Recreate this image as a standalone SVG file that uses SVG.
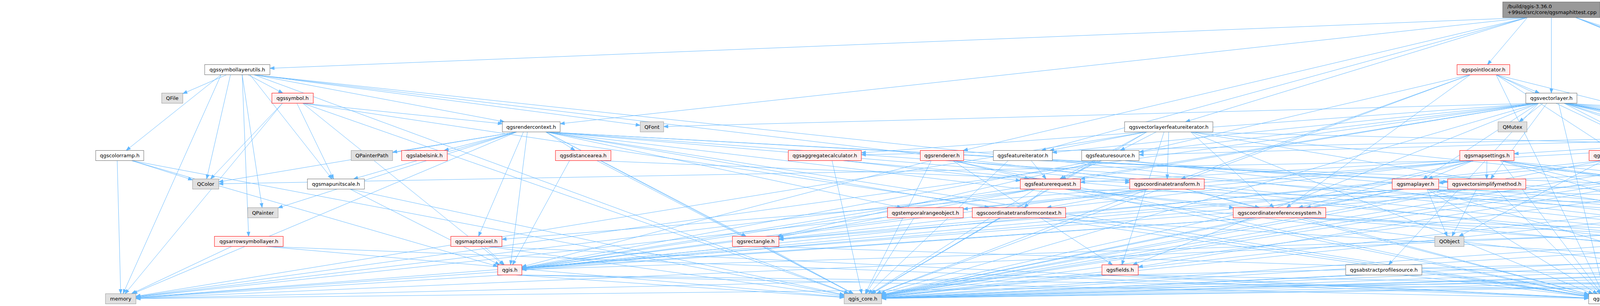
<svg xmlns="http://www.w3.org/2000/svg" width="7326" height="784" viewBox="0 0 7326 784">
<style>
.w rect{fill:#ffffff;stroke:#666666;stroke-width:1}
.g rect{fill:#e0e0e0;stroke:#999999;stroke-width:1}
.r rect{fill:#fff0f0;stroke:#ff0000;stroke-width:1}
.root rect{fill:#999999;stroke:#666666;stroke-width:1}
text{font-family:"DejaVu Sans","Liberation Sans",sans-serif;font-size:13px;fill:#000000;text-anchor:middle}
.root text{text-anchor:start}
</style>
<defs>
<marker id="a" markerUnits="userSpaceOnUse" markerWidth="12" markerHeight="9" refX="11" refY="4" orient="auto" overflow="visible"><path d="M0,0L11,4L0,8z" fill="#63b8ff" stroke="#63b8ff" stroke-width="1"/></marker>
</defs>
<rect x="0" y="0" width="7326" height="784" fill="#ffffff"/>
<g id="edges" fill="none" stroke="#63b8ff" stroke-width="1" marker-end="url(#a)">
<path d="M4034 45L4753 312"/><path d="M3910 45L2666 385.5"/><path d="M3910 45L1434 317"/><path d="M3910 45L2466 385.5"/><path d="M3971.5 45L3971.5 238.5"/><path d="M3910 45L691 175"/><path d="M4034 45L5389 605.5"/><path d="M4096 30L6218 102"/><path d="M4034 45L5538 532"/><path d="M3910 45L3035 312"/><path d="M4034 45L4891 385.5"/><path d="M3910 45L3808 165.5"/>
<path d="M6301 118.5L6246 165.5"/><path d="M6270 118.5L5219.5 532"/><path d="M6270 118.5L5991 605.5"/><path d="M6270 118.5L2257 758"/><path d="M6270 118.5L4154 752.5"/><path d="M6372 118.5L7115 752.5"/>
<path d="M580 191.5L468 240"/><path d="M635 191.5L724 238.5"/><path d="M566 191.5L323 385.5"/><path d="M590 191.5L529 458.5"/><path d="M620 191.5L636.5 605.5"/><path d="M640 191.5L850 458.5"/><path d="M650 191.5L1639 321"/><path d="M566 191.5L315 752.5"/><path d="M650 191.5L2174 752.5"/><path d="M650 191.5L5953 761.7"/><path d="M650 191.5L4811 688"/><path d="M620 191.5L671 532"/><path d="M650 191.5L1291 312"/>
<path d="M3830 191.5L3941 238.5"/><path d="M3830 191.5L4699 605.5"/><path d="M3764 191.5L3023.5 458.5"/><path d="M3764 191.5L3293.5 532"/><path d="M3764 191.5L1990 605.5"/><path d="M3830 191.5L5788 678.5"/><path d="M3764 191.5L2244 752.5"/><path d="M3830 191.5L4104 752.5"/><path d="M3830 191.5L4578.5 678.5"/>
<path d="M775 264.5L1286 317"/><path d="M723 264.5L320 752.5"/><path d="M775 264.5L2172 752.5"/><path d="M775 264.5L1289 678.5"/><path d="M723 264.5L539 458.5"/><path d="M760 264.5L854 458.5"/><path d="M775 264.5L4067 759"/>
<path d="M3939 264.5L3643 458.5"/><path d="M3950 264.5L3889 312"/><path d="M3960 264.5L3816 458.5"/><path d="M3939 264.5L2916 389.5"/><path d="M3939 264.5L2766 458.7"/><path d="M3939 264.5L2900 678.5"/><path d="M4004 264.5L4960 320"/><path d="M4004 264.5L4982 605.5"/><path d="M4004 264.5L6235 678.5"/><path d="M3939 264.5L2205 391.6"/><path d="M4004 264.5L5502 458.5"/><path d="M4004 264.5L5299 385.5"/><path d="M3939 264.5L3554.6 678.5"/><path d="M4004 264.5L5932 609"/><path d="M4004 264.5L5784 678.5"/><path d="M4004 264.5L7104 761.3"/><path d="M4004 264.5L4813 678.5"/><path d="M4004 264.5L6076 685.3"/><path d="M4004 264.5L5123 605.5"/><path d="M3939 264.5L1699 324.2"/><path d="M3939 264.5L2254 752.5"/><path d="M3990 264.5L4107 752.5"/><path d="M3939 264.5L1336 686.5"/><path d="M3939 264.5L348 760"/><path d="M3939 264.5L2694 390.8"/>
<path d="M1323 338L560 466"/><path d="M1323 338L712 532.6"/><path d="M1323 338L1005 390"/><path d="M1323 338L340 752.5"/><path d="M1397 338L2184 752.5"/><path d="M1397 338L4067 758.6"/><path d="M1350 338L1307 678.5"/><path d="M1397 338L2892 463.5"/><path d="M1397 338L5098 540"/><path d="M1340 338L1225 605.5"/><path d="M1323 338L905 458.5"/><path d="M1397 338L1910 605.5"/><path d="M1397 338L3706 466"/><path d="M1397 338L1472 385.5"/><path d="M1323 338L1137 385.5"/><path d="M1397 338L2308 532"/><path d="M1397 338L2532 532"/><path d="M1397 338L4274 683"/><path d="M1397 338L4177 538"/>
<path d="M2936 338L2687 385.5"/><path d="M2936 338L2713 458.5"/><path d="M2960 338L2868 385.5"/><path d="M2980 338L2872 678.5"/><path d="M3048 338L3261 532"/><path d="M2992 338L2988 458.5"/><path d="M3048 338L5299 395"/><path d="M2936 338L2231 752.5"/><path d="M3048 338L4078 752.5"/><path d="M3048 338L7104 762.7"/><path d="M2936 338L348 759"/><path d="M3048 338L4687 612"/>
<path d="M4756 338L3876 394"/><path d="M4756 338L4211 391.5"/><path d="M4820 338L4901 385.5"/><path d="M4820 338L7104 760.6"/><path d="M4820 338L6076 683"/><path d="M4788 338L4729 605.5"/><path d="M4756 338L2257 757.4"/><path d="M4756 338L4130 752.5"/><path d="M4820 338L5149.5 605.5"/>
<path d="M5095 338L5943 605.5"/><path d="M5005 338L2766 467"/><path d="M5005 338L2916 396.5"/><path d="M5005 338L2914 684"/><path d="M5005 338L2205 396.5"/><path d="M5050 338L5020 605.5"/><path d="M5095 338L5181 532"/><path d="M5005 338L2257 758"/><path d="M5005 338L4138 752.5"/><path d="M5095 338L7104 760"/><path d="M5095 338L6076 681"/><path d="M5005 338L4845 678.5"/><path d="M5095 338L5162 605.5"/><path d="M5005 338L1994 613"/>
<path d="M337 411.5L493 461"/><path d="M337 411.5L2161 756.4"/><path d="M337 411.5L1274 682.5"/><path d="M300 411.5L309 752.5"/>
<path d="M1528 411.5L2184 752.5"/><path d="M1528 411.5L2892 467.6"/><path d="M1458 411.5L1312 678.5"/>
<path d="M2130 411.5L2206 752.5"/><path d="M2158 411.5L2612 462.8"/><path d="M2158 411.5L5953 762.3"/>
<path d="M2384 411.5L2215 752.5"/><path d="M2439 411.5L4067 756.3"/><path d="M2439 411.5L2635 458.5"/><path d="M2439 411.5L2848 678.5"/><path d="M2384 411.5L1336 683.5"/><path d="M2439 411.5L5953 762"/>
<path d="M2640 411.5L2678 458.5"/><path d="M2656 411.5L5932 542"/><path d="M2581 411.5L2223 752.5"/>
<path d="M2820 411.5L2717 458.5"/><path d="M2806 411.5L2231 752.5"/><path d="M2806 411.5L1336 685.7"/><path d="M2879 411.5L7104 763.3"/><path d="M2879 411.5L5953 761.5"/>
<path d="M3806.5 411.5L3806 458.5"/><path d="M3772 411.5L3656 458.5"/><path d="M3772 411.5L3324 532"/><path d="M3772 411.5L1285 613.2"/><path d="M3772 411.5L1994 611.8"/><path d="M3841 411.5L5098 536.2"/><path d="M3772 411.5L2466 535.8"/><path d="M3841 411.5L5780 683"/><path d="M3772 411.5L560 471"/><path d="M3841 411.5L4687 609.3"/><path d="M3841 411.5L5119 611.2"/><path d="M3772 411.5L2257 754.6"/><path d="M3841 411.5L4100.6 752.5"/><path d="M3841 411.5L4229 532"/>
<path d="M4104 411.5L3735 605.5"/><path d="M4104 411.5L2257 756.5"/><path d="M4150 411.5L4112 752.5"/><path d="M4104 411.5L1336 688.4"/><path d="M4175 411.5L6076 687"/>
<path d="M4973 411.5L5166 532"/><path d="M4874 411.5L3683 468.6"/><path d="M4874 411.5L2257 759"/><path d="M4874 411.5L4138.5 752.5"/><path d="M4874 411.5L348 762.5"/><path d="M4973 411.5L6076 684"/>
<path d="M5370 411.5L5204 532"/><path d="M5370 411.5L2257 760"/><path d="M5370 411.5L4154 753.3"/>
<path d="M896 484.5L2161 755.2"/><path d="M896 484.5L1279 678.5"/>
<path d="M2670 484.5L2622 532"/><path d="M2727 484.5L5098 542.8"/><path d="M2650 484.5L1994 607.4"/><path d="M2727 484.5L3158 532"/><path d="M2650 484.5L2229 752.5"/><path d="M2727 484.5L4067 756.7"/><path d="M2650 484.5L348 760.8"/><path d="M2727 484.5L4811 688.8"/><path d="M2650 484.5L1336 686.7"/>
<path d="M3035 484.5L3224 532"/><path d="M2940 484.5L2680 532"/><path d="M2940 484.5L2243 752.5"/><path d="M3035 484.5L4067 754"/><path d="M2940 484.5L1336 687.6"/><path d="M2940 484.5L348 761.3"/>
<path d="M3653 484.5L3705 605.5"/><path d="M3594 484.5L3344 532"/><path d="M3594 484.5L1994 613.7"/><path d="M3653 484.5L5503 542.6"/><path d="M3594 484.5L2257 755.8"/><path d="M3653 484.5L4089 752.5"/><path d="M3594 484.5L1336 688.7"/><path d="M3653 484.5L5119 614.4"/><path d="M3653 484.5L5953 761.3"/><path d="M3653 484.5L4300 678.5"/>
<path d="M3780 484.5L3717 605.5"/><path d="M3830 484.5L4097.5 752.5"/><path d="M3760 484.5L2257 756.8"/><path d="M3760 484.5L1336 689"/>
<path d="M5550 484.5L5264.6 532"/>
<path d="M2340 558L2217 752.5"/><path d="M2320 558L1336 687.4"/>
<path d="M2560 558L2231 752.5"/><path d="M2660 558L4067 759.3"/><path d="M2660 558L5953 763.3"/>
<path d="M3216 558L2257 755.6"/><path d="M3335 558L4067 754"/><path d="M3216 558L1336 689.3"/><path d="M3335 558L5953 762.8"/><path d="M3335 558L5119 617"/><path d="M3335 558L6076 690"/><path d="M3216 558L348 762.7"/>
<path d="M4224 558L2257 760.6"/><path d="M4240 558L4118.6 752.5"/><path d="M4317 558L5953 761.2"/>
<path d="M5180 558L5168.6 605.5"/><path d="M5142 558L2257 762"/><path d="M5142 558L4154 756.7"/><path d="M5231 558L5953 756"/><path d="M5231 558L7104 762.6"/><path d="M5142 558L4866 679.4"/><path d="M5231 558L6076 686.8"/><path d="M5231 558L5932 614.3"/><path d="M5142 558L348 763.8"/><path d="M5142 558L4766 612.7"/>
<path d="M5541 558L2257 762.5"/><path d="M5541 558L4154 759.2"/><path d="M5616 558L5964.7 752.5"/><path d="M5541 558L5212 611"/><path d="M5616 558L6869 616.2"/><path d="M5541 558L1336 690.5"/>
<path d="M6000 558L5987 605.5"/><path d="M5970 558L4866 688.3"/>
<path d="M593 631.5L336.6 752.5"/><path d="M681 631.5L2161 761.3"/><path d="M681 631.5L4067 763.8"/>
<path d="M1240 631.5L1291 678.5"/><path d="M1250 631.5L2161 758.8"/><path d="M1250 631.5L4067 763.5"/>
<path d="M1960 631.5L2185 752.5"/><path d="M1905 631.5L1336 688.4"/><path d="M1960 631.5L5953 764.3"/>
<path d="M4981 631.5L2257 763.2"/><path d="M4981 631.5L4154 758.8"/><path d="M5057 631.5L6076 689.8"/><path d="M5057 631.5L5953 760.5"/>
<path d="M5379 631.5L5191 679"/><path d="M5379 631.5L4658 687"/><path d="M5461 631.5L5780 682"/><path d="M5379 631.5L2257 763.5"/><path d="M5379 631.5L4154 761"/><path d="M5461 631.5L6450 760.7"/><path d="M5461 631.5L5953 756.6"/>
<path d="M5958 631.5L5865.6 678.5"/><path d="M5984 631.5L5988 752.5"/><path d="M6010 631.5L6085.6 678.5"/><path d="M5958 631.5L2257 763.8"/><path d="M5958 631.5L4154 762.3"/><path d="M5958 631.5L4866 690"/><path d="M6010 631.5L6450 755.2"/><path d="M5958 631.5L348 764.6"/>
<path d="M6661 631.5L6503 752.5"/><path d="M6661 631.5L2257 764"/><path d="M6661 631.5L4154 763.2"/><path d="M6661 631.5L6137 688.2"/><path d="M6661 631.5L6023 758.5"/><path d="M6749 631.5L7104 756.2"/>
<path d="M1320 704.5L2161 762.2"/><path d="M1320 704.5L4067 764.5"/><path d="M1320 704.5L5953 765"/><path d="M1290 704.5L348 763"/>
<path d="M2845 704.5L2257 760.9"/><path d="M2890 704.5L4067 763.3"/><path d="M2890 704.5L5953 764.8"/>
<path d="M3494 704.5L2257 763.2"/><path d="M3591 704.5L4067 760.4"/>
<path d="M4309 704.5L2257 764.1"/><path d="M4309 704.5L4153 752.5"/><path d="M4378 704.5L5953 764.2"/>
<path d="M4569 704.5L2257 764.3"/><path d="M4569 704.5L4154 759.7"/><path d="M4628 704.5L6450 764.3"/><path d="M4628 704.5L5953 763.9"/>
<path d="M5118 704.5L2257 764.5"/><path d="M5166 704.5L5953 762.9"/>
<path d="M5870 704.5L5963 752.5"/><path d="M5810 704.5L2257 764.7"/><path d="M5810 704.5L4154 763.9"/><path d="M5870 704.5L7104 764.2"/><path d="M5870 704.5L6450 761.9"/><path d="M5810 704.5L348 765.1"/>
<path d="M6340 704.5L6455 752.5"/><path d="M6260 704.5L2257 764.8"/><path d="M6260 704.5L4154 764.3"/>
</g>
<g id="nodes">
<g id="node_root" class="root"><rect x="3847" y="5" width="249" height="40"/><text x="3859" y="21">/build/qgis-3.36.0</text><text x="3859" y="36">+99sid/src/core/qgsmaphittest.cpp</text></g>
<g id="node_qgsexpressioncontextutils" class="w"><rect x="6218" y="92.5" width="206" height="26"/><text x="6321" y="110">qgsexpressioncontextutils.h</text></g>
<g id="node_qgssymbollayerutils" class="w"><rect x="524" y="165.5" width="167" height="26"/><text x="607.5" y="183">qgssymbollayerutils.h</text></g>
<g id="node_qgspointlocator" class="r"><rect x="3730" y="165.5" width="135" height="26"/><text x="3797.5" y="183">qgspointlocator.h</text></g>
<g id="node_QVariantMap" class="g"><rect x="6177" y="165.5" width="107" height="26"/><text x="6230.5" y="183">QVariantMap</text></g>
<g id="node_QFile" class="g"><rect x="414" y="238.5" width="54" height="26"/><text x="441" y="256">QFile</text></g>
<g id="node_qgssymbol" class="r"><rect x="696" y="238.5" width="106" height="26"/><text x="749" y="256">qgssymbol.h</text></g>
<g id="node_qgsvectorlayer" class="w"><rect x="3906" y="238.5" width="131" height="26"/><text x="3971.5" y="256">qgsvectorlayer.h</text></g>
<g id="node_qgsrendercontext" class="w"><rect x="1286" y="312" width="148" height="26"/><text x="1360" y="329.5">qgsrendercontext.h</text></g>
<g id="node_QFont" class="g"><rect x="1639" y="312" width="60" height="26"/><text x="1669" y="329.5">QFont</text></g>
<g id="node_qgsvectorlayerfeatureiterator" class="w"><rect x="2879" y="312" width="226" height="26"/><text x="2992" y="329.5">qgsvectorlayerfeatureiterator.h</text></g>
<g id="node_QMutex" class="g"><rect x="3835" y="312" width="74" height="26"/><text x="3872" y="329.5">QMutex</text></g>
<g id="node_qgsmaphittest" class="w"><rect x="4724" y="312" width="128" height="26"/><text x="4788" y="329.5">qgsmaphittest.h</text></g>
<g id="node_qgsvectordataprovider" class="r"><rect x="4960" y="312" width="181" height="26"/><text x="5050.5" y="329.5">qgsvectordataprovider.h</text></g>
<g id="node_qgscolorramp" class="w"><rect x="245" y="385.5" width="123" height="26"/><text x="306.5" y="403">qgscolorramp.h</text></g>
<g id="node_QPainterPath" class="g"><rect x="899" y="385.5" width="106" height="26"/><text x="952" y="403">QPainterPath</text></g>
<g id="node_qgslabelsink" class="r"><rect x="1028" y="385.5" width="117" height="26"/><text x="1086.5" y="403">qgslabelsink.h</text></g>
<g id="node_qgsdistancearea" class="r"><rect x="1422" y="385.5" width="142" height="26"/><text x="1493" y="403">qgsdistancearea.h</text></g>
<g id="node_qgsaggregatecalculator" class="r"><rect x="2018" y="385.5" width="187" height="26"/><text x="2111.5" y="403">qgsaggregatecalculator.h</text></g>
<g id="node_qgsrenderer" class="r"><rect x="2356" y="385.5" width="111" height="26"/><text x="2411.5" y="403">qgsrenderer.h</text></g>
<g id="node_qgsfeatureiterator" class="w"><rect x="2543" y="385.5" width="151" height="26"/><text x="2618.5" y="403">qgsfeatureiterator.h</text></g>
<g id="node_qgsfeaturesource" class="w"><rect x="2769" y="385.5" width="147" height="26"/><text x="2842.5" y="403">qgsfeaturesource.h</text></g>
<g id="node_qgsmapsettings" class="r"><rect x="3737" y="385.5" width="139" height="26"/><text x="3806.5" y="403">qgsmapsettings.h</text></g>
<g id="node_qgstaskmanager" class="r"><rect x="4068" y="385.5" width="143" height="26"/><text x="4139.5" y="403">qgstaskmanager.h</text></g>
<g id="node_qgslayertreefiltersettings" class="w"><rect x="4824" y="385.5" width="199" height="26"/><text x="4923.5" y="403">qgslayertreefiltersettings.h</text></g>
<g id="node_qgsexpressioncontextscopegenerator" class="w"><rect x="5299" y="385.5" width="278" height="26"/><text x="5438" y="403">qgsexpressioncontextscopegenerator.h</text></g>
<g id="node_QColor" class="g"><rect x="493" y="458.5" width="67" height="26"/><text x="526.5" y="476">QColor</text></g>
<g id="node_qgsmapunitscale" class="w"><rect x="787" y="458.5" width="146" height="26"/><text x="860" y="476">qgsmapunitscale.h</text></g>
<g id="node_qgsfeaturerequest" class="r"><rect x="2612" y="458.5" width="154" height="26"/><text x="2689" y="476">qgsfeaturerequest.h</text></g>
<g id="node_qgscoordinatetransform" class="r"><rect x="2892" y="458.5" width="191" height="26"/><text x="2987.5" y="476">qgscoordinatetransform.h</text></g>
<g id="node_qgsmaplayer" class="r"><rect x="3564" y="458.5" width="119" height="26"/><text x="3623.5" y="476">qgsmaplayer.h</text></g>
<g id="node_qgsvectorsimplifymethod" class="r"><rect x="3706" y="458.5" width="200" height="26"/><text x="3806" y="476">qgsvectorsimplifymethod.h</text></g>
<g id="node_qgsexpressioncontextgenerator" class="w"><rect x="5483" y="458.5" width="239" height="26"/><text x="5602.5" y="476">qgsexpressioncontextgenerator.h</text></g>
<g id="node_QPainter" class="g"><rect x="634" y="532" width="78" height="26"/><text x="673" y="549.5">QPainter</text></g>
<g id="node_qgstemporalrangeobject" class="r"><rect x="2272" y="532" width="194" height="26"/><text x="2369" y="549.5">qgstemporalrangeobject.h</text></g>
<g id="node_qgscoordinatetransformcontext" class="r"><rect x="2489" y="532" width="239" height="26"/><text x="2608.5" y="549.5">qgscoordinatetransformcontext.h</text></g>
<g id="node_qgscoordinatereferencesystem" class="r"><rect x="3157" y="532" width="237" height="26"/><text x="3275.5" y="549.5">qgscoordinatereferencesystem.h</text></g>
<g id="node_qgsfeaturefilterprovider" class="r"><rect x="4177" y="532" width="187" height="26"/><text x="4270.5" y="549.5">qgsfeaturefilterprovider.h</text></g>
<g id="node_qgsexpressioncontext" class="r"><rect x="5098" y="532" width="177" height="26"/><text x="5186.5" y="549.5">qgsexpressioncontext.h</text></g>
<g id="node_qgsmaplayerstyle" class="w"><rect x="5503" y="532" width="151" height="26"/><text x="5578.5" y="549.5">qgsmaplayerstyle.h</text></g>
<g id="node_qgsindexedfeature" class="w"><rect x="5932" y="532" width="154" height="26"/><text x="6009" y="549.5">qgsindexedfeature.h</text></g>
<g id="node_qgsarrowsymbollayer" class="r"><rect x="549" y="605.5" width="176" height="26"/><text x="637" y="623">qgsarrowsymbollayer.h</text></g>
<g id="node_qgsmaptopixel" class="r"><rect x="1154" y="605.5" width="131" height="26"/><text x="1219.5" y="623">qgsmaptopixel.h</text></g>
<g id="node_qgsrectangle" class="r"><rect x="1875" y="605.5" width="119" height="26"/><text x="1934.5" y="623">qgsrectangle.h</text></g>
<g id="node_QObject" class="g"><rect x="3673" y="605.5" width="75" height="26"/><text x="3710.5" y="623">QObject</text></g>
<g id="node_QPointer" class="g"><rect x="4687" y="605.5" width="79" height="26"/><text x="4726.5" y="623">QPointer</text></g>
<g id="node_qgseditformconfig" class="r"><rect x="4943" y="605.5" width="152" height="26"/><text x="5019" y="623">qgseditformconfig.h</text></g>
<g id="node_QStringList" class="g"><rect x="5119" y="605.5" width="93" height="26"/><text x="5165.5" y="623">QStringList</text></g>
<g id="node_qgsgeometryengine" class="w"><rect x="5338" y="605.5" width="164" height="26"/><text x="5420" y="623">qgsgeometryengine.h</text></g>
<g id="node_qgsfeature" class="r"><rect x="5932" y="605.5" width="104" height="26"/><text x="5984" y="623">qgsfeature.h</text></g>
<g id="node_qgsmeshdataprovider" class="r"><rect x="6617" y="605.5" width="176" height="26"/><text x="6705" y="623">qgsmeshdataprovider.h</text></g>
<g id="node_QByteArray" class="g"><rect x="6869" y="605.5" width="97" height="26"/><text x="6917.5" y="623">QByteArray</text></g>
<g id="node_qgis" class="r"><rect x="1274" y="678.5" width="62" height="26"/><text x="1305" y="696">qgis.h</text></g>
<g id="node_qgsfields" class="r"><rect x="2821" y="678.5" width="93" height="26"/><text x="2867.5" y="696">qgsfields.h</text></g>
<g id="node_qgsabstractprofilesource" class="w"><rect x="3445" y="678.5" width="195" height="26"/><text x="3542.5" y="696">qgsabstractprofilesource.h</text></g>
<g id="node_qgspathresolver" class="r"><rect x="4274" y="678.5" width="139" height="26"/><text x="4343.5" y="696">qgspathresolver.h</text></g>
<g id="node_qgslinestring" class="r"><rect x="4539" y="678.5" width="119" height="26"/><text x="4598.5" y="696">qgslinestring.h</text></g>
<g id="node_QList" class="g"><rect x="4811" y="678.5" width="55" height="26"/><text x="4838.5" y="696">QList</text></g>
<g id="node_qgslogger" class="r"><rect x="5093" y="678.5" width="98" height="26"/><text x="5142" y="696">qgslogger.h</text></g>
<g id="node_qgsgeometry" class="r"><rect x="5780" y="678.5" width="120" height="26"/><text x="5840" y="696">qgsgeometry.h</text></g>
<g id="node_QMap" class="g"><rect x="6076" y="678.5" width="61" height="26"/><text x="6106.5" y="696">QMap</text></g>
<g id="node_qgsattributetableconfig" class="r"><rect x="6212" y="678.5" width="186" height="26"/><text x="6305" y="696">qgsattributetableconfig.h</text></g>
<g id="node_memory" class="g"><rect x="270" y="752.5" width="78" height="26"/><text x="309" y="770">memory</text></g>
<g id="node_qgis_core" class="g"><rect x="2161" y="752.5" width="96" height="26"/><text x="2209" y="770">qgis_core.h</text></g>
<g id="node_qgis_sip" class="w"><rect x="4067" y="752.5" width="87" height="26"/><text x="4110.5" y="770">qgis_sip.h</text></g>
<g id="node_QString" class="g"><rect x="5953" y="752.5" width="70" height="26"/><text x="5988" y="770">QString</text></g>
<g id="node_QVector" class="g"><rect x="6450" y="752.5" width="73" height="26"/><text x="6486.5" y="770">QVector</text></g>
<g id="node_QSet" class="g"><rect x="7104" y="752.5" width="53" height="26"/><text x="7130.5" y="770">QSet</text></g>
</g>
</svg>
